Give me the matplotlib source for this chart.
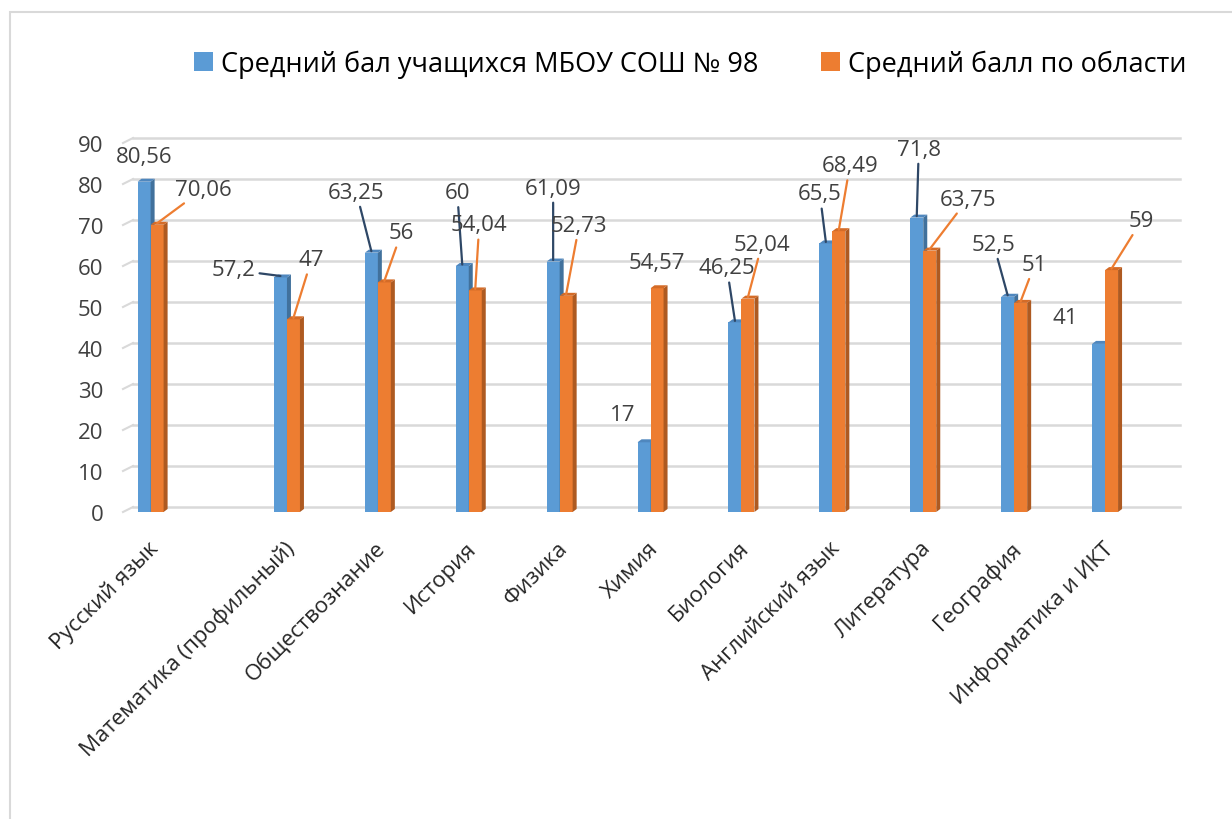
import numpy as np
import matplotlib
matplotlib.use("Agg")
import matplotlib.pyplot as plt
from matplotlib.patches import Polygon, Rectangle
from matplotlib.transforms import ScaledTranslation

plt.rcParams['font.family'] = ['Open Sans', 'DejaVu Sans']

# Данные
subjects = ['Русский язык', 'Математика (профильный)', 'Обществознание', 'История',
            'Физика', 'Химия', 'Биология', 'Английский язык', 'Литература',
            'География', 'Информатика и ИКТ']
school = [80.56, 57.2, 63.25, 60, 61.09, 17, 46.25, 65.5, 71.8, 52.5, 41]
region = [70.06, 47, 56, 54.04, 52.73, 54.57, 52.04, 68.49, 63.75, 51, 59]
series_names = ['Средний бал учащихся МБОУ СОШ № 98', 'Средний балл по области']
yticks = np.arange(0, 100, 10)

# Оформление: смещения подписей (px) и выноски
school_off = [(0, 24), (-47, 6), (-15, 59), (-5, 72), (0, 72), (-21, 26),
              (-8, 53), (-6, 48), (2, 67), (-14, 51), (-33, 25)]
school_lead = [False, True, True, True, True, False, True, True, True, True, False]
region_off = [(46, 34), (18, 58), (17, 48), (4, 64), (13, 69), (0, 24),
              (14, 53), (11, 64), (38, 50), (14, 37), (30, 48)]
region_lead = [True, True, True, True, True, False, True, True, True, True, True]

blue, blue_side, blue_top, blue_lead = '#5B9BD5', '#41719C', '#4F87BE', '#2E4766'
orange, orange_side, orange_top, orange_lead = '#ED7D31', '#AE5A21', '#D46B27', '#ED7D31'

fig = plt.figure(figsize=(12.32, 8.2), dpi=100)
W, H = 1232, 820
ax = fig.add_axes([120 / W, 1 - 513 / H, (1180 - 120) / W, (513 - 144) / H])

px_x = 90.9          # пикселей на категорию
px_y = 4.1           # пикселей на единицу
xpos = np.arange(len(subjects), dtype=float)
xpos[1:] += 0.5
ax.set_xlim((120 - 150.6) / px_x, (1180 - 150.6) / px_x)
ax.set_ylim(0, 90)

# сетка "задней стенки"
gx0 = (133 - 150.6) / px_x
gdy = 5 / px_y
gdx = 10 / px_x
for t in yticks:
    ax.plot([gx0, ax.get_xlim()[1]], [t + gdy, t + gdy], color='#D9D9D9', lw=1.8,
            zorder=1, clip_on=False)
    ax.plot([gx0 - gdx, gx0], [t, t + gdy], color='#D9D9D9', lw=1.5, zorder=1,
            clip_on=False)

w = 13 / px_x
ddx, ddy = 4 / px_x, 3 / px_y


def bars3d(x, vals, front, side, top, z, label):
    cont = ax.bar(x, vals, width=w, color=front, zorder=z, label=label)
    for p in cont.patches:
        x0, bw, v = p.get_x(), p.get_width(), p.get_height()
        ax.add_patch(Polygon([(x0 + bw, 0), (x0 + bw + ddx, ddy), (x0 + bw + ddx, v + ddy),
                              (x0 + bw, v)], closed=True, color=side, zorder=z, lw=0))
        ax.add_patch(Polygon([(x0, v), (x0 + ddx, v + ddy), (x0 + bw + ddx, v + ddy),
                              (x0 + bw, v)], closed=True, color=top, zorder=z, lw=0))
    return cont


b1 = bars3d(xpos - w / 2, school, blue, blue_side, blue_top, 2, series_names[0])
b2 = bars3d(xpos + w / 2, region, orange, orange_side, orange_top, 3, series_names[1])


def fmt(v):
    return f'{v:g}'.replace('.', ',')


def labels(x, vals, offs, leads, lcol):
    for xi, v, off, lead in zip(x, vals, offs, leads):
        kw = {}
        if lead:
            kw['arrowprops'] = dict(arrowstyle='-', color=lcol, lw=1.6, shrinkA=1, shrinkB=0)
        ax.annotate(fmt(v), xy=(xi, v + ddy / 2), xytext=off, textcoords='offset pixels',
                    ha='center', va='center', fontsize=16, color='#404040',
                    zorder=6, annotation_clip=False, **kw)


labels(xpos - w / 2, school, school_off, school_lead, blue_lead)
labels(xpos + w / 2, region, region_off, region_lead, orange_lead)

for s in ax.spines.values():
    s.set_visible(False)
ax.set_yticks(yticks)
ax.set_yticklabels([str(t) for t in yticks])
ax.tick_params(axis='y', length=0, pad=12, labelsize=16, labelcolor='#404040')
ax.set_xticks(xpos)
ax.set_xticklabels(subjects, rotation=45, ha='right', rotation_mode='anchor')
ax.tick_params(axis='x', length=0, pad=18, labelsize=16, labelcolor='#262626')
for lbl in ax.get_xticklabels():
    lbl.set_transform(lbl.get_transform() + ScaledTranslation(-2 / 72, 0, fig.dpi_scale_trans))

fig.legend(handles=[b1, b2], loc='center', bbox_to_anchor=(690 / W, 1 - 65 / H), ncol=2,
           frameon=False, fontsize=19.5, handlelength=0.7, handleheight=0.7,
           handletextpad=0.3, columnspacing=2.3)

fig.add_artist(Rectangle((10 / W, -0.1), 1.2, 1 - 13 / H + 0.1, transform=fig.transFigure,
                         fill=False, edgecolor='#D9D9D9', lw=1.5))

fig.savefig('out.png', dpi=100)
